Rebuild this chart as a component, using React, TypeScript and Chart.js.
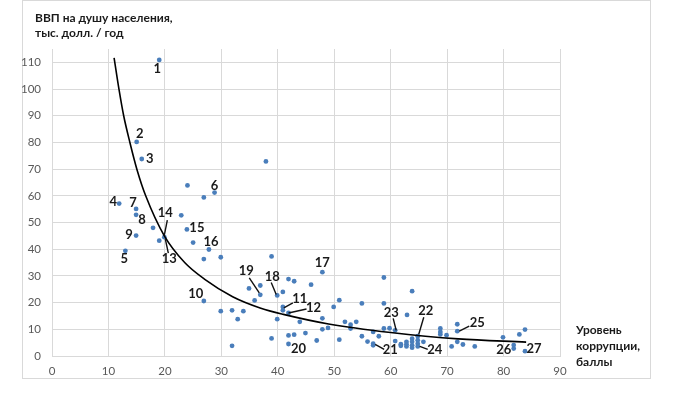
import React, { useEffect, useRef } from "react";
import { Chart, registerables } from "chart.js";

Chart.register(...registerables);

// Corruption level score (x) and GDP per capita, thousand USD per year (y)
const corruptionScore = [
  19, 15, 15.9, 24, 26.9, 28.8, 11.9, 14.9, 14.9, 22.9,
  17.9, 23.9, 14.9, 19, 19.9, 25, 13, 27.8, 26.9, 29.9,
  26.9, 29.9, 31.9, 32.9, 33.9, 31.9, 34.9, 35.9, 36.9, 36.9,
  37.9, 38.9, 39.9, 40.9, 41.9, 42.9, 45.9, 47.9, 40.9, 40.9,
  41.9, 39.9, 43.9, 47.9, 47.9, 48.9, 49.9, 50.9, 38.9, 41.9,
  42.9, 44.9, 41.9, 46.9, 50.9, 51.9, 52.9, 52.9, 53.9, 54.9,
  54.9, 55.9, 56.9, 56.9, 56.9, 57.9, 58.8, 58.8, 58.8, 59.8,
  60.8, 60.8, 61.8, 61.8, 62.8, 62.8, 62.8, 62.9, 63.8, 63.8,
  63.8, 63.8, 63.8, 64.8, 64.8, 64.8, 64.8, 65.8, 68.8, 68.8,
  68.8, 69.9, 70.8, 71.8, 71.8, 71.8, 72.8, 74.9, 79.9, 81.8,
  81.8, 82.8, 83.8, 83.8,
];
const gdpPerCapita = [
  110.9, 80.2, 73.8, 63.9, 59.4, 61.2, 57.1, 55.1, 52.9, 52.7,
  48, 47.4, 45.1, 43.2, 44.5, 42.5, 39.4, 39.9, 36.3, 37,
  20.6, 16.8, 17.1, 13.8, 16.8, 3.8, 25.3, 20.8, 26.4, 22.9,
  72.9, 37.3, 22.7, 24, 28.8, 28, 26.7, 31.4, 18.4, 17.1,
  16.1, 13.8, 12.8, 14.1, 10, 10.5, 18.4, 20.9, 6.6, 7.7,
  8, 8.6, 4.5, 5.8, 6.1, 12.8, 11.7, 10.3, 12.8, 19.7,
  7.4, 5.4, 9, 4.6, 4.0, 7.4, 29.4, 19.7, 10.3, 10.4,
  9.6, 5.6, 4.4, 3.8, 5.3, 4.4, 3.6, 15.4, 24.3, 6.5,
  5.3, 4.0, 3.1, 7.4, 5.9, 4.6, 3.6, 5.3, 10.3, 9,
  8.1, 7.8, 3.6, 11.9, 9.3, 5.3, 4.3, 3.6, 7, 4.1,
  2.8, 8.1, 9.9, 1.8,
];

// Trend curve
const trendX = [11, 11.9, 12.7, 13.8, 15.1, 16.6, 19.9, 23.5, 27, 32, 37, 41, 49, 60, 72, 84];
const trendY = [111.7, 99.5, 90, 80, 69.5, 60, 45, 35, 28.8, 22.2, 17.9, 15.6, 12, 8.8, 6.4, 5.2];

const xTicks = [0, 10, 20, 30, 40, 50, 60, 70, 80, 90];
const yTicks = [0, 10, 20, 30, 40, 50, 60, 70, 80, 90, 100, 110];

const titleLines = ["ВВП на душу населения,", "тыс. долл. / год"];
const xTitleLines = ["Уровень", "коррупции,", "баллы"];

// Numbered callouts: point index, label offset, optional leader line (relative px)
type Callout = { text: string; i: number; dx: number; dy: number; line?: [number, number, number, number] };
const callouts: Callout[] = [
  { text: "1", i: 0, dx: -2, dy: 9 },
  { text: "2", i: 1, dx: 3, dy: -8 },
  { text: "3", i: 2, dx: 8, dy: 0 },
  { text: "4", i: 6, dx: -6, dy: -2 },
  { text: "5", i: 16, dx: -1, dy: 8 },
  { text: "6", i: 5, dx: 0, dy: -7 },
  { text: "7", i: 7, dx: -3, dy: -6 },
  { text: "8", i: 8, dx: 6, dy: 5 },
  { text: "9", i: 12, dx: -7, dy: -1 },
  { text: "10", i: 20, dx: -8, dy: -7 },
  { text: "11", i: 38, dx: 17, dy: -8, line: [10, -4, 1, 1] },
  { text: "12", i: 40, dx: 25, dy: -5, line: [18, -4, 0, 0] },
  { text: "13", i: 14, dx: 5, dy: 22, line: [1, 2, 4, 16] },
  { text: "14", i: 14, dx: 1, dy: -24, line: [3, -17, 0, -2] },
  { text: "15", i: 11, dx: 10, dy: -2 },
  { text: "16", i: 17, dx: 2, dy: -8 },
  { text: "17", i: 37, dx: 0, dy: -9 },
  { text: "18", i: 32, dx: -5, dy: -19, line: [-6, -13, -1, -1] },
  { text: "19", i: 29, dx: -14, dy: -24, line: [-11, -17, -1, -2] },
  { text: "20", i: 52, dx: 10, dy: 5 },
  { text: "21", i: 64, dx: 17, dy: 4, line: [2, -1, 11, 4] },
  { text: "22", i: 83, dx: 8, dy: -25, line: [6, -19, 1, -2] },
  { text: "23", i: 70, dx: -4, dy: -18, line: [-2, -12, 1, 0] },
  { text: "24", i: 86, dx: 17, dy: 3, line: [2, 0, 10, 3] },
  { text: "25", i: 94, dx: 20, dy: -8, line: [2, 0, 12, -5] },
  { text: "26", i: 99, dx: -10, dy: 5 },
  { text: "27", i: 103, dx: 9, dy: -2 },
];

const FONT = "Lato, 'Noto Sans', sans-serif";

const decorPlugin = {
  id: "decor",
  beforeDraw(chart: any) {
    const ctx = chart.ctx;
    ctx.save();
    ctx.fillStyle = "#ffffff";
    ctx.fillRect(0, 0, chart.width, chart.height);
    ctx.strokeStyle = "#d9d9d9";
    ctx.lineWidth = 1;
    ctx.strokeRect(22.5, 0.5, 628, 378);
    ctx.restore();
  },
  afterDraw(chart: any) {
    const ctx = chart.ctx;
    const xs = chart.scales.x;
    const ys = chart.scales.y;
    ctx.save();
    ctx.fillStyle = "#1a1a1a";
    ctx.font = `bold 12px ${FONT}`;
    ctx.textAlign = "left";
    ctx.textBaseline = "middle";
    ctx.fillText(titleLines[0], 35, 18);
    ctx.fillText(titleLines[1], 35, 33);
    xTitleLines.forEach((t, k) => ctx.fillText(t, 576, 330 + k * 16.3));

    ctx.strokeStyle = "#111111";
    ctx.lineWidth = 1.4;
    ctx.font = `bold 13px ${FONT}`;
    ctx.textAlign = "center";
    callouts.forEach((c) => {
      const px = xs.getPixelForValue(corruptionScore[c.i]);
      const py = ys.getPixelForValue(gdpPerCapita[c.i]);
      if (c.line) {
        ctx.beginPath();
        ctx.moveTo(px + c.line[0], py + c.line[1]);
        ctx.lineTo(px + c.line[2], py + c.line[3]);
        ctx.stroke();
      }
      ctx.fillText(c.text, px + c.dx, py + c.dy);
    });
    ctx.restore();
  },
};

export default function App() {
  const ref = useRef<HTMLCanvasElement | null>(null);
  useEffect(() => {
    if (!ref.current) return;
    const chart = new Chart(ref.current, {
      type: "scatter",
      data: {
        datasets: [
          {
            label: "Страны",
            data: corruptionScore.map((x, k) => ({ x, y: gdpPerCapita[k] })),
            backgroundColor: "#4a7ebb",
            borderColor: "#4a7ebb",
            borderWidth: 0,
            pointRadius: 2.4,
            pointHoverRadius: 2.4,
            order: 1,
          },
          {
            label: "Тренд",
            data: trendX.map((x, k) => ({ x, y: trendY[k] })),
            showLine: true,
            borderColor: "#000000",
            borderWidth: 1.6,
            pointRadius: 0,
            cubicInterpolationMode: "monotone",
            fill: false,
            order: 0,
          } as any,
        ],
      },
      options: {
        animation: false,
        responsive: false,
        events: [],
        layout: { padding: { left: 0, right: 129, top: 49, bottom: 0 } },
        plugins: { legend: { display: false }, tooltip: { enabled: false }, title: { display: false } },
        scales: {
          x: {
            type: "linear",
            min: 0,
            max: 90,
            afterFit: (s: any) => { s.height = 37; },
            afterBuildTicks: (s: any) => { s.ticks = xTicks.map((v) => ({ value: v })); },
            grid: { color: "#d9d9d9", drawTicks: false, lineWidth: 1 },
            border: { color: "#d9d9d9" },
            ticks: { color: "#595959", font: { family: FONT, size: 11.5 }, padding: 8 },
          },
          y: {
            type: "linear",
            min: 0,
            max: 115,
            afterFit: (s: any) => { s.width = 52; },
            afterBuildTicks: (s: any) => { s.ticks = yTicks.map((v) => ({ value: v })); },
            grid: { color: "#d9d9d9", drawTicks: false, lineWidth: 1 },
            border: { color: "#d9d9d9" },
            ticks: { color: "#595959", font: { family: FONT, size: 11.5 }, padding: 11 },
          },
        },
      },
      plugins: [decorPlugin],
    });
    return () => chart.destroy();
  }, []);
  return (
    <div style={{ position: "fixed", left: 0, top: 0, width: 689, height: 393, background: "#fff" }}>
      <canvas ref={ref} width={689} height={393} style={{ width: 689, height: 393, display: "block" }} />
    </div>
  );
}
